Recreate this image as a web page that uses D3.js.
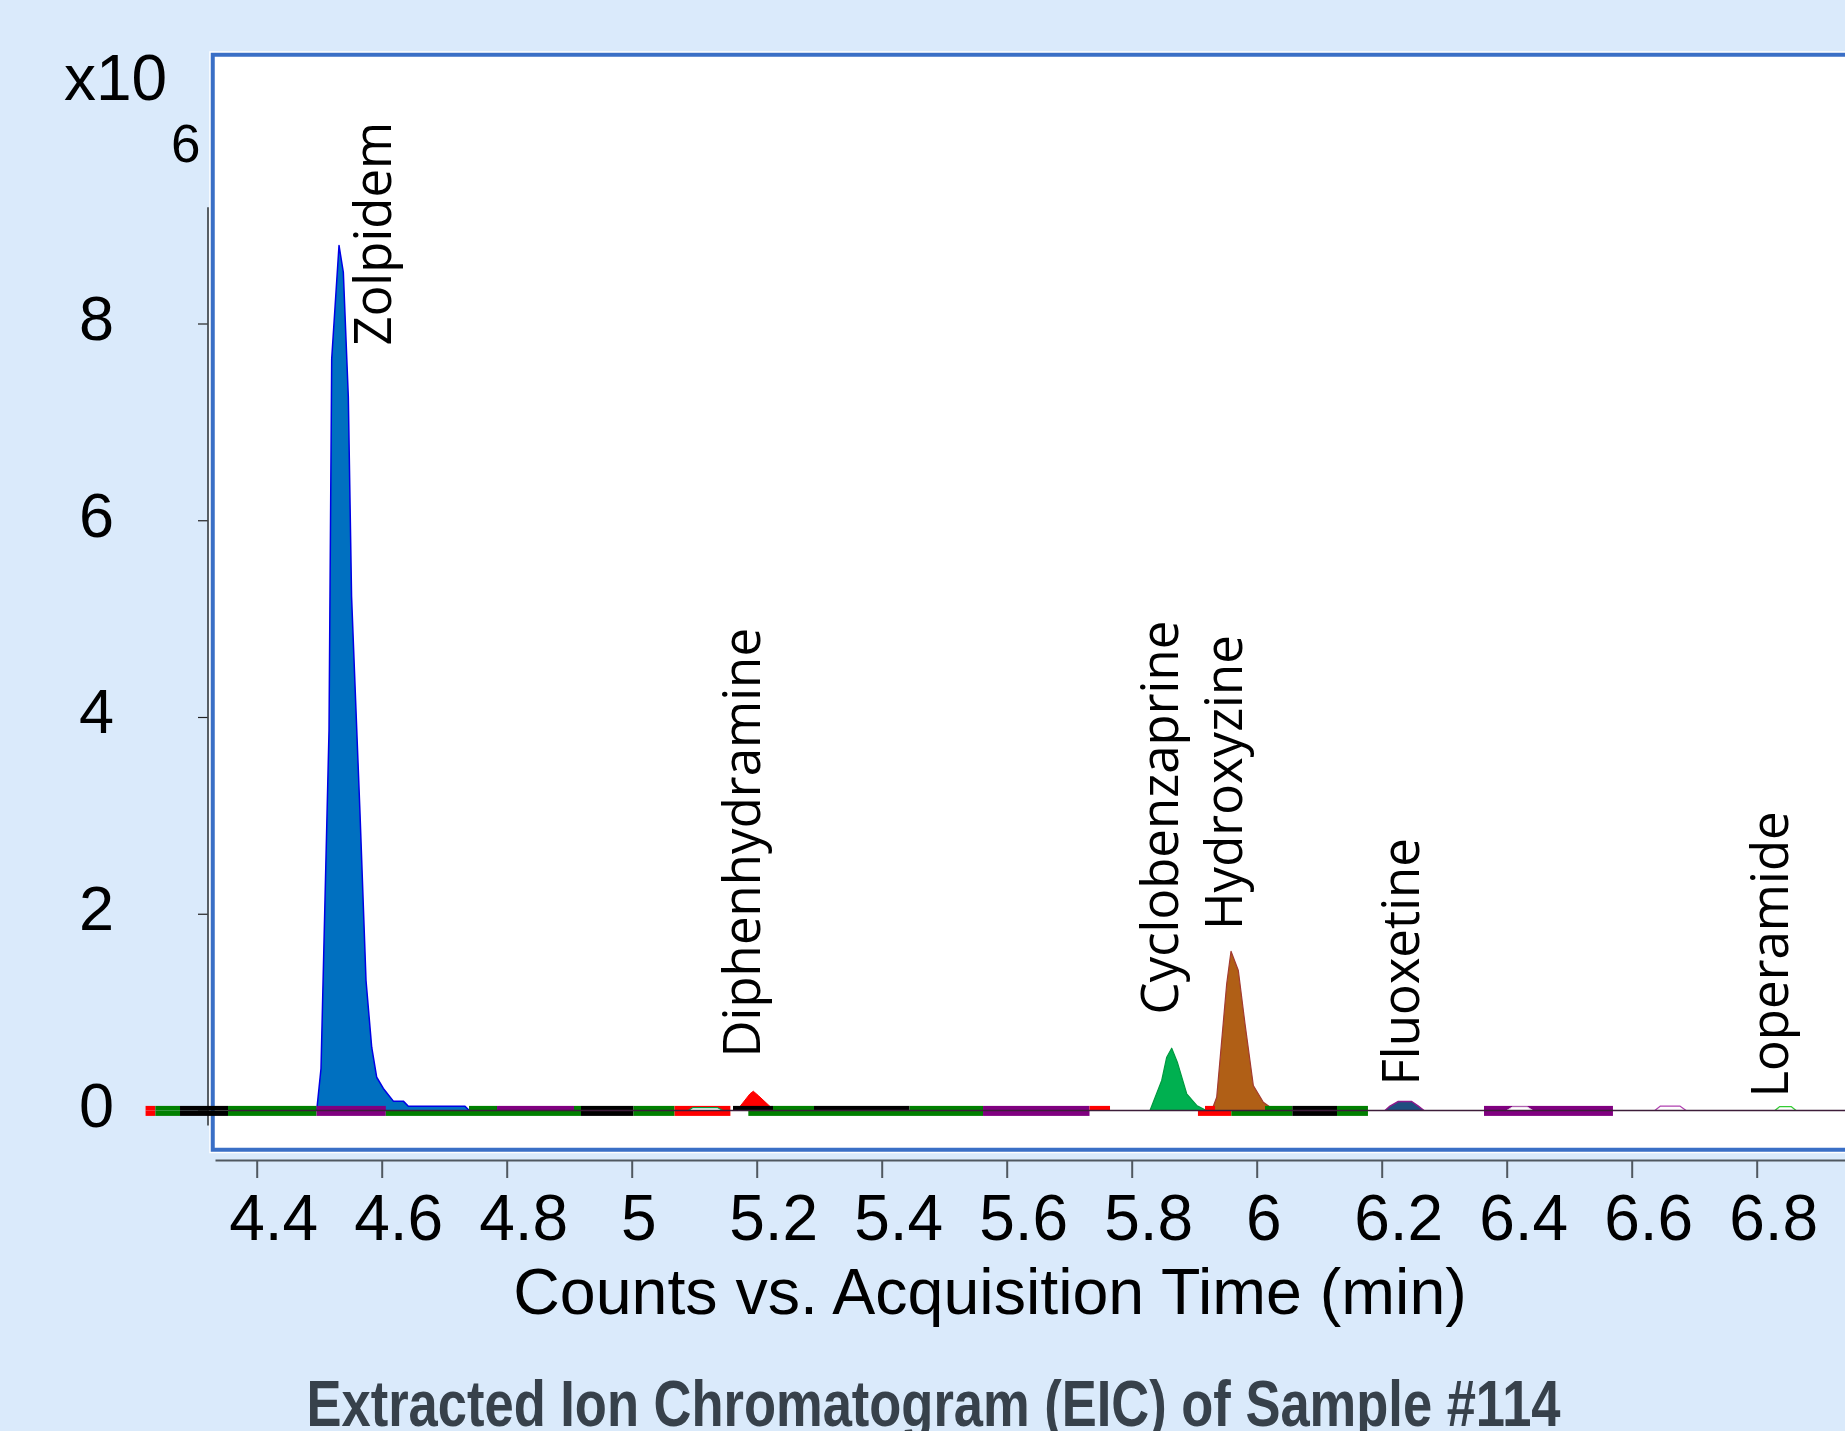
<!DOCTYPE html>
<html>
<head>
<meta charset="utf-8">
<script src="https://cdn.jsdelivr.net/npm/d3@7"></script>
<style>
body { margin: 0; background: #daeafb; }
svg { display: block; }
</style>
</head>
<body>
<svg id="chart" width="1845" height="1431"></svg>
<script>
// retention time (min) / counts (x10^6)
var xTicks = [4.4, 4.6, 4.8, 5.0, 5.2, 5.4, 5.6, 5.8, 6.0, 6.2, 6.4, 6.6, 6.8];
var yTicks = [0, 2, 4, 6, 8];

var zolpidem = [[4.496,0],[4.5029,0.427],[4.5157,3.863],[4.52,7.641],[4.5317,8.793],[4.5386,8.521],
	[4.5466,7.251],[4.5518,5.221],[4.5653,3.019],[4.5749,1.321],[4.584,0.643],[4.592,0.338],
	[4.6026,0.224],[4.6186,0.095],[4.6346,0.095],[4.6426,0.044],[4.7333,0.044],[4.7402,0]];
var diphenhydramine = [[5.168,0],[5.1733,0.041],[5.1893,0.17],[5.1946,0.196],[5.2026,0.152],[5.2213,0.041],[5.227,0]];
var cyclobenzaprine = [[5.8293,0],[5.848,0.305],[5.856,0.542],[5.864,0.633],[5.873,0.491],[5.888,0.17],[5.904,0.051],[5.9195,0]];
var hydroxyzine = [[5.928,0],[5.936,0.135],[5.952,1.288],[5.9589,1.619],[5.9706,1.423],[5.9813,0.881],[5.9946,0.254],[6.0106,0.084],[6.0293,0]];
var fluoxetine = [[6.2053,0],[6.2133,0.044],[6.2266,0.0915],[6.248,0.0915],[6.2586,0.044],[6.2677,0]];
// small traces that stay near the baseline
var traceA = [[5.0905,0],[5.098,0.03],[5.137,0.03],[5.146,0]];
var traceB = [[6.400,0],[6.409,0.035],[6.433,0.035],[6.442,0]];
var traceC = [[6.637,0],[6.646,0.045],[6.677,0.045],[6.687,0]];
var loperamide = [[6.829,0],[6.837,0.04],[6.855,0.04],[6.863,0]];

// integration baseline segments [start, end, trace code]
var upperSegments = [[4.2222,4.2379,"r"],[4.2379,4.2773,"g"],[4.2773,4.3541,"k"],[4.3541,4.4958,"g"],
	[4.4958,4.6066,"p"],[4.7397,4.7845,"g"],[4.7845,4.9077,"p"],[4.9077,4.9189,"g"],[4.9189,5.003,"k"],
	[5.003,5.0686,"g"],[5.0686,5.1579,"r"],[5.1621,5.2261,"k"],[5.2261,5.2917,"g"],[5.2917,5.4446,"k"],
	[5.4446,5.5621,"g"],[5.5621,5.7325,"p"],[5.7325,5.7653,"r"],[5.9173,5.9333,"r"],[6.0133,6.057,"g"],
	[6.057,6.1285,"k"],[6.1285,6.178,"g"],[6.3637,6.570,"p"]];
var lowerSegments = [[4.2222,4.2379,"r"],[4.2379,4.2773,"g"],[4.2773,4.3541,"k"],[4.3541,4.4958,"g"],
	[4.4958,4.6066,"p"],[4.6066,4.9189,"g"],[4.9189,5.003,"k"],[5.003,5.0686,"g"],[5.0686,5.1579,"r"],
	[5.1866,5.5621,"g"],[5.5621,5.7325,"p"],[5.906,5.9594,"r"],[5.9594,6.057,"g"],[6.057,6.1285,"k"],
	[6.1285,6.178,"g"],[6.3637,6.570,"p"]];

// compound labels, anchored at (time, counts)
var labelNames = ["Zolpidem", "Diphenhydramine", "Cyclobenzaprine", "Hydroxyzine", "Fluoxetine", "Loperamide"];
var labelTimes = [4.6144, 5.2053, 5.8741, 5.9766, 6.2597, 6.8493];
var labelCounts = [7.776, 0.539, 0.976, 1.835, 0.254, 0.132];

var segColors = { r: "#ff0000", g: "#008000", k: "#000000", p: "#800080" };

var svg = d3.select("#chart");
var x = d3.scaleLinear().domain([4.4, 6.8]).range([256.7, 1756.7]);
var y = d3.scaleLinear().domain([0, 8]).range([1110.5, 323.5]);

// plot frame
svg.append("rect")
	.attr("x", 212.75).attr("y", 54.75).attr("width", 1700).attr("height", 1095)
	.attr("fill", "white").attr("stroke", "white").attr("stroke-width", 7);
svg.append("rect")
	.attr("x", 212.75).attr("y", 54.75).attr("width", 1700).attr("height", 1095)
	.attr("fill", "white").attr("stroke", "#3a6fc6").attr("stroke-width", 4);

// y axis
var yAxisScale = y.copy().domain([y.invert(1125), y.invert(206.7)]).range([1125, 206.7]);
var yAxis = svg.append("g")
	.attr("transform", "translate(207.5,0)")
	.call(d3.axisLeft(yAxisScale).tickValues(yTicks).tickSize(9.5).tickSizeOuter(0).tickPadding(84)
		.tickFormat(d3.format("d")));
yAxis.select(".domain").attr("stroke", "#000").attr("stroke-width", 1.2);
yAxis.selectAll(".tick line").attr("stroke", "#222").attr("stroke-width", 1.2);
yAxis.selectAll(".tick text")
	.attr("font-family", "Liberation Sans, Arial, sans-serif")
	.attr("font-size", 63).attr("fill", "#000").attr("dy", "0.25em");

svg.append("text").attr("x", 64).attr("y", 100)
	.attr("font-family", "Liberation Sans, Arial, sans-serif").attr("font-size", 64).text("x10");
svg.append("text").attr("x", 171).attr("y", 162)
	.attr("font-family", "Liberation Sans, Arial, sans-serif").attr("font-size", 53).text("6");

// x axis
var xAxisScale = x.copy().domain([x.invert(215), x.invert(1850)]).range([215, 1850]);
var xAxis = svg.append("g")
	.attr("transform", "translate(0,1160)")
	.call(d3.axisBottom(xAxisScale).tickValues(xTicks).tickSize(18).tickSizeOuter(0).tickPadding(17)
		.tickFormat(function (d) { return d3.format("")(+d.toFixed(1)); }));
xAxis.select(".domain").attr("stroke", "#505860").attr("stroke-width", 2);
xAxis.selectAll(".tick line").attr("stroke", "#505860").attr("stroke-width", 2);
xAxis.selectAll(".tick text")
	.attr("font-family", "Liberation Sans, Arial, sans-serif")
	.attr("font-size", 64).attr("fill", "#000")
	.attr("dx", function () { return 0.185 * this.getComputedTextLength(); });

// chromatogram peaks
var area = d3.area().x(function (d) { return x(d[0]); }).y0(y(0)).y1(function (d) { return y(d[1]); });
var line = d3.line().x(function (d) { return x(d[0]); }).y(function (d) { return y(d[1]); });

function drawTrace(data, fill, stroke, width) {
	svg.append("path").datum(data).attr("d", area).attr("fill", fill);
	svg.append("path").datum(data).attr("d", line).attr("fill", "none")
		.attr("stroke", stroke).attr("stroke-width", width).attr("stroke-linejoin", "round");
}
drawTrace(zolpidem, "#0070c0", "#0000e6", 1.5);
drawTrace(diphenhydramine, "#ff0000", "#ff0000", 1);
drawTrace(cyclobenzaprine, "#00b050", "#009a40", 1.2);
drawTrace(hydroxyzine, "#b05f16", "#a33a30", 1.2);
drawTrace(fluoxetine, "#1f4e80", "#8b1a8b", 1.5);

// integration baselines
var base = y(0);
svg.append("g").selectAll("rect").data(upperSegments).join("rect")
	.attr("x", function (d) { return x(d[0]); })
	.attr("width", function (d) { return x(d[1]) - x(d[0]); })
	.attr("y", base - 4.6).attr("height", 4.6)
	.attr("fill", function (d) { return segColors[d[2]]; });
svg.append("g").selectAll("rect").data(lowerSegments).join("rect")
	.attr("x", function (d) { return x(d[0]); })
	.attr("width", function (d) { return x(d[1]) - x(d[0]); })
	.attr("y", base).attr("height", 5.4)
	.attr("fill", function (d) { return segColors[d[2]]; });

drawTrace(traceA, "#ffffff", "#00a040", 1.2);
drawTrace(traceB, "#ffffff", "#e8d8e8", 1);
drawTrace(traceC, "#ffffff", "#b040b0", 1.2);
drawTrace(loperamide, "#ffffff", "#33cc33", 1.2);

svg.append("line")
	.attr("x1", x(4.3541)).attr("x2", 1845).attr("y1", base).attr("y2", base)
	.attr("stroke", "#3d1d3a").attr("stroke-width", 1.3);

// compound labels
svg.append("g").selectAll("text").data(labelNames).join("text")
	.attr("transform", function (d, i) {
		return "translate(" + x(labelTimes[i]) + "," + y(labelCounts[i]) + ") rotate(-90)";
	})
	.attr("font-family", "Open Sans, sans-serif").attr("font-size", 51).attr("fill", "#000")
	.text(function (d) { return d; });

// titles
svg.append("text").attr("x", 990).attr("y", 1314).attr("text-anchor", "middle")
	.attr("font-family", "Liberation Sans, Arial, sans-serif").attr("font-size", 64.5).attr("fill", "#000")
	.text("Counts vs. Acquisition Time (min)");
svg.append("text").attr("x", 933.5).attr("y", 1426).attr("text-anchor", "middle")
	.attr("font-family", "Liberation Sans, Arial, sans-serif").attr("font-weight", "bold")
	.attr("font-size", 64).attr("fill", "#37414b")
	.attr("textLength", 1254).attr("lengthAdjust", "spacingAndGlyphs")
	.text("Extracted Ion Chromatogram (EIC) of Sample #114");
</script>
</body>
</html>
